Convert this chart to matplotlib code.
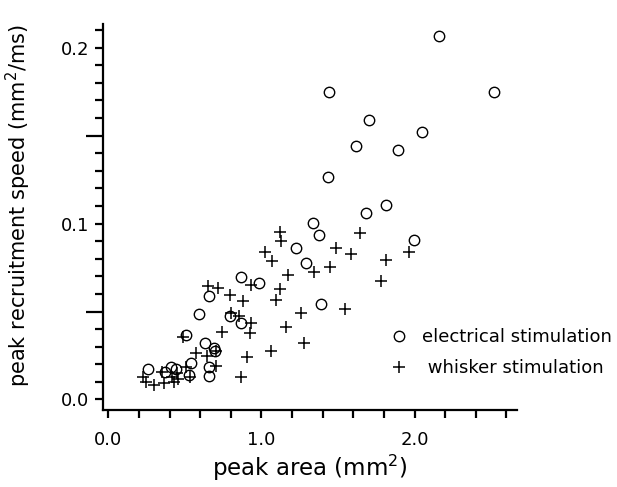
import matplotlib
matplotlib.use("Agg")
import matplotlib.pyplot as plt
from matplotlib.ticker import MultipleLocator, FixedLocator

plt.rcParams['font.family'] = ['DejaVu Sans']

# electrical stimulation (circles)
elec_area = [2.157, 2.521, 1.442, 1.704, 2.048, 1.617, 1.889, 1.434, 1.812, 1.684,
             1.340, 1.373, 1.996, 1.225, 1.288, 0.867, 0.985, 0.655, 1.390, 0.595,
             0.797, 0.867, 0.506, 0.631, 0.693, 0.695, 0.541, 0.261, 0.410, 0.441,
             0.371, 0.529, 0.660, 0.660]
elec_speed = [0.2068, 0.1745, 0.1747, 0.1590, 0.1523, 0.1438, 0.1419, 0.1267, 0.1106, 0.1059,
              0.1002, 0.0935, 0.0907, 0.0859, 0.0775, 0.0694, 0.0664, 0.0590, 0.0545, 0.0485,
              0.0474, 0.0433, 0.0364, 0.0323, 0.0292, 0.0278, 0.0205, 0.0176, 0.0187, 0.0171,
              0.0154, 0.0138, 0.0186, 0.0134]

# whisker stimulation (pluses)
whisk_area = [1.122, 1.129, 1.020, 1.068, 1.490, 1.585, 1.641, 1.961, 1.815, 1.449,
              1.342, 1.171, 1.782, 0.650, 0.719, 0.935, 1.120, 0.795, 0.877, 1.092,
              1.547, 1.258, 0.804, 0.856, 0.935, 1.161, 0.740, 0.924, 0.490, 1.276,
              0.573, 0.643, 0.703, 1.063, 0.908, 0.704, 0.505, 0.867, 0.532, 0.224,
              0.248, 0.301, 0.365, 0.431, 0.454, 0.352, 0.418, 0.449]
whisk_speed = [0.0954, 0.0899, 0.0840, 0.0785, 0.0859, 0.0829, 0.0945, 0.0837, 0.0793, 0.0753,
               0.0722, 0.0710, 0.0673, 0.0645, 0.0636, 0.0649, 0.0629, 0.0594, 0.0558, 0.0563,
               0.0514, 0.0489, 0.0489, 0.0474, 0.0437, 0.0411, 0.0383, 0.0376, 0.0355, 0.0319,
               0.0265, 0.0246, 0.0278, 0.0273, 0.0242, 0.0188, 0.0184, 0.0129, 0.0127, 0.0127,
               0.0100, 0.0085, 0.0091, 0.0097, 0.0114, 0.0154, 0.0129, 0.0150]

x_ticks = [0.0, 1.0, 2.0]
x_labels = ['0.0', '1.0', '2.0']
y_ticks = [0.0, 0.05, 0.1, 0.15, 0.2]
y_labels = ['0.0', '', '0.1', '', '0.2']

fig = plt.figure(figsize=(6.17, 4.87), dpi=100)
ax = fig.add_axes([0.167, 0.158, 0.671, 0.793])

ax.plot(elec_area, elec_speed, linestyle='none', marker='o', markersize=7.5,
        markerfacecolor='none', markeredgecolor='black', markeredgewidth=1.0,
        label='electrical stimulation', clip_on=False)
ax.plot(whisk_area, whisk_speed, linestyle='none', marker='+', markersize=9,
        color='black', markeredgewidth=1.1, label=' whisker stimulation', clip_on=False)

ax.set_xlim(-0.035, 2.67)
ax.set_ylim(-0.006, 0.2135)

for s in ['top', 'right']:
    ax.spines[s].set_visible(False)
for s in ['left', 'bottom']:
    ax.spines[s].set_linewidth(1.6)

ax.xaxis.set_major_locator(FixedLocator(x_ticks))
ax.set_xticklabels(x_labels)
ax.xaxis.set_minor_locator(MultipleLocator(0.2))
ax.yaxis.set_major_locator(FixedLocator(y_ticks))
ax.set_yticklabels(y_labels)
ax.yaxis.set_minor_locator(MultipleLocator(0.01))

ax.tick_params(axis='both', which='both', direction='out', width=1.6, length=6,
               labelsize=13, pad=4)
ax.tick_params(axis='x', which='major', pad=9)
for t, v in zip(ax.yaxis.get_major_ticks(), y_ticks):
    if v in (0.05, 0.15):
        t.tick1line.set_markersize(12)

ax.set_xlabel('peak area (mm$^2$)', fontsize=16.5, labelpad=3)
ax.set_ylabel('peak recruitment speed (mm$^2$/ms)', fontsize=15)
ax.yaxis.set_label_coords(-0.17, 0.53)

ax.legend(loc='center left', bbox_to_anchor=(0.693, 0.149), frameon=False,
          fontsize=13, handlelength=1.0, handletextpad=0.75, labelspacing=0.7,
          borderaxespad=0, borderpad=0)

fig.savefig('out.png', dpi=100)
